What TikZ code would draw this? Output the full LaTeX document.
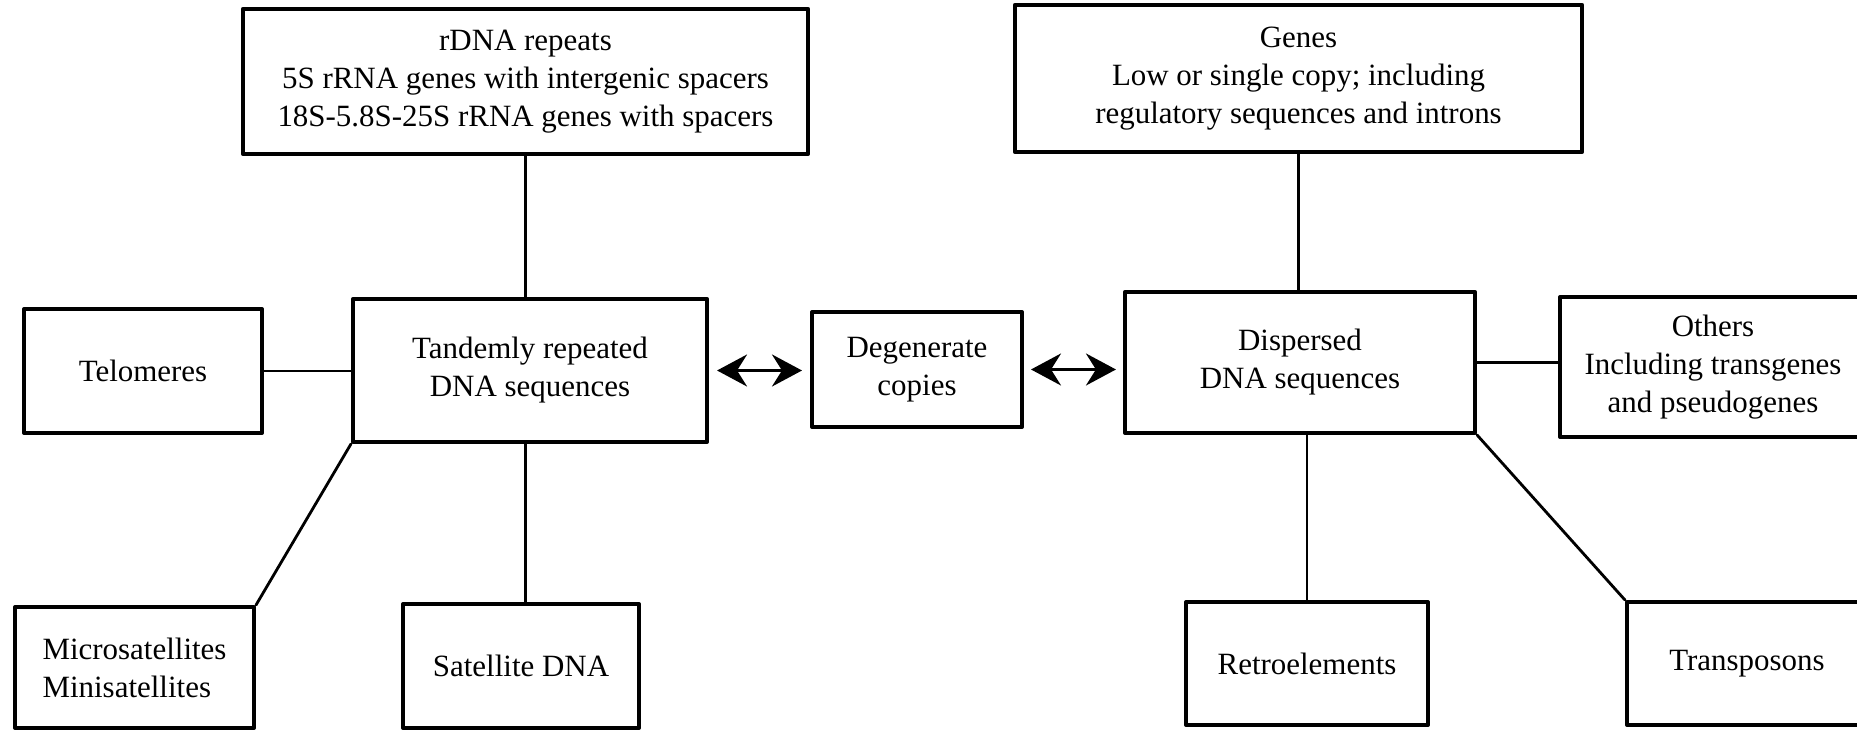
\documentclass[tikz,border=0pt]{standalone}
\usepackage{fontspec}
\setmainfont{Liberation Serif}
\usetikzlibrary{arrows.meta}
\begin{document}
\begin{tikzpicture}[x=0.01cm,y=-0.01cm,>={Stealth[length=3mm,width=3.2mm,inset=1mm]},
    font=\fontsize{8.8}{10.8}\selectfont, line join=round, line cap=round,
    khoi/.style={draw,line width=1.1pt,align=center,inner sep=0pt},
    noi/.style={line width=0.8pt}]
    \useasboundingbox (0,0) rectangle (1857,731);
    \clip (0,0) rectangle (1857,731);
    % Các khối
    \node[khoi,minimum width=5.65cm,minimum height=1.45cm] (rdna) at (525.5,81.5) {rDNA repeats\\5S rRNA genes with intergenic spacers\\18S-5.8S-25S rRNA genes with spacers};
    \node[khoi,minimum width=5.67cm,minimum height=1.47cm] (genes) at (1298.5,78.5) {Genes\\Low or single copy; including\\regulatory sequences and introns};
    \node[khoi,minimum width=3.54cm,minimum height=1.43cm] (tandem) at (530,370.5) {Tandemly repeated\\DNA sequences};
    \node[khoi,minimum width=2.38cm,minimum height=1.24cm] (telo) at (143,371) {Telomeres};
    \node[khoi,minimum width=2.10cm,minimum height=1.15cm] (degen) at (917,369.5) {Degenerate\\copies};
    \node[khoi,minimum width=3.50cm,minimum height=1.41cm] (disp) at (1300,362.5) {Dispersed\\DNA sequences};
    \node[khoi,minimum width=3.06cm,minimum height=1.40cm] (others) at (1713,367) {Others\\Including transgenes\\and pseudogenes};
    \node[khoi,minimum width=2.39cm,minimum height=1.21cm,align=left] (micro) at (134.5,667.5) {Microsatellites\\Minisatellites};
    \node[khoi,minimum width=2.36cm,minimum height=1.24cm] (sat) at (521,666) {Satellite DNA};
    \node[khoi,minimum width=2.42cm,minimum height=1.23cm] (retro) at (1307,663.5) {Retroelements};
    \node[khoi,minimum width=2.40cm,minimum height=1.23cm] (trans) at (1747,663.5) {Transposons};
    % Đường nối
    \draw[noi] (rdna.south) -- (rdna.south |- tandem.north);
    \draw[noi] (genes.south) -- (genes.south |- disp.north);
    \draw[noi] (telo.east) -- (telo.east -| tandem.west);
    \draw[noi] (disp.east) -- (disp.east -| others.west);
    \draw[noi] (tandem.south west) -- (micro.north east);
    \draw[noi] (rdna.south |- tandem.south) -- (rdna.south |- sat.north);
    \draw[noi] (retro.north) -- (retro.north |- disp.south);
    \draw[noi] (disp.south east) -- (trans.north west);
    \draw[noi,<->,shorten <=0.08cm,shorten >=0.08cm] (tandem.east) -- (tandem.east -| degen.west);
    \draw[noi,<->,shorten <=0.07cm,shorten >=0.07cm] (degen.east) -- (degen.east -| disp.west);
\end{tikzpicture}
\end{document}
